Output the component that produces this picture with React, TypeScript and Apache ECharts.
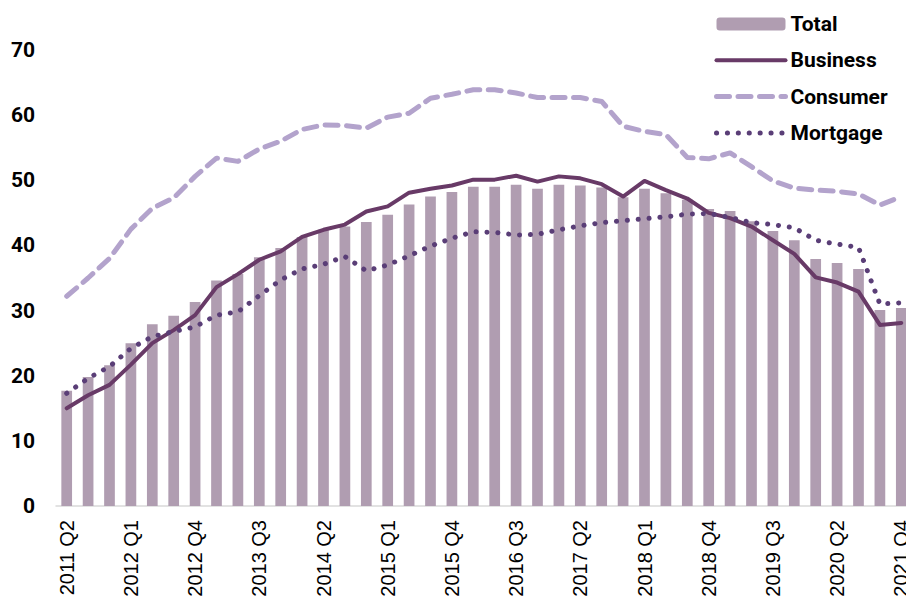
import React, { useEffect, useRef } from "react";
import * as echarts from "echarts";

const quarters: string[] = [
  "2011 Q2", "2011 Q3", "2011 Q4",
  "2012 Q1", "2012 Q2", "2012 Q3", "2012 Q4",
  "2013 Q1", "2013 Q2", "2013 Q3", "2013 Q4",
  "2014 Q1", "2014 Q2", "2014 Q3", "2014 Q4",
  "2015 Q1", "2015 Q2", "2015 Q3", "2015 Q4",
  "2016 Q1", "2016 Q2", "2016 Q3", "2016 Q4",
  "2017 Q1", "2017 Q2", "2017 Q3", "2017 Q4",
  "2018 Q1", "2018 Q2", "2018 Q3", "2018 Q4",
  "2019 Q1", "2019 Q2", "2019 Q3", "2019 Q4",
  "2020 Q1", "2020 Q2", "2020 Q4", "2021 Q2", "2021 Q4",
];

const total: number[] = [
  17.7, 19.8, 21.6, 25.0, 27.9, 29.2, 31.3, 34.6, 35.6, 38.2,
  39.6, 41.3, 42.4, 42.9, 43.6, 44.7, 46.3, 47.5, 48.2, 49.0,
  49.0, 49.3, 48.7, 49.3, 49.2, 48.9, 47.4, 48.7, 48.0, 47.0,
  45.6, 45.3, 43.7, 42.2, 40.8, 37.9, 37.3, 36.4, 30.1, 30.4,
];

const business: number[] = [
  15.0, 17.0, 18.6, 21.7, 25.0, 27.0, 29.3, 33.6, 35.6, 37.8,
  39.1, 41.3, 42.4, 43.2, 45.2, 46.0, 48.1, 48.7, 49.2, 50.1,
  50.1, 50.7, 49.8, 50.6, 50.3, 49.4, 47.5, 49.9, 48.5, 47.2,
  45.0, 44.2, 42.9, 40.8, 38.7, 35.1, 34.3, 32.9, 27.8, 28.1,
];

const consumer: number[] = [
  32.2, 35.0, 38.0, 42.5, 45.7, 47.3, 50.6, 53.4, 52.9, 54.8,
  56.0, 57.8, 58.5, 58.4, 58.0, 59.7, 60.3, 62.6, 63.2, 63.9,
  63.9, 63.4, 62.7, 62.7, 62.7, 62.1, 58.3, 57.5, 57.0, 53.5,
  53.3, 54.2, 52.1, 49.9, 48.8, 48.5, 48.3, 47.9, 46.2, 47.5,
];

const mortgage: number[] = [
  17.3, 19.6, 21.4, 24.2, 26.0, 26.8, 27.5, 29.3, 29.8, 32.3,
  34.7, 36.4, 37.1, 38.3, 36.1, 37.0, 38.4, 39.9, 41.1, 42.1,
  42.0, 41.6, 41.7, 42.4, 43.0, 43.5, 43.8, 44.1, 44.4, 44.8,
  44.9, 44.3, 43.5, 43.2, 42.7, 40.8, 40.2, 39.7, 31.0, 31.2,
];

const yTicks = { min: 0, max: 70, interval: 10 };

const BOLD_FONT = "Roboto, 'Liberation Sans', sans-serif";
const AXIS_FONT = "'Liberation Sans', Arial, sans-serif";

const C_TOTAL = "#b09db1";
const C_BUSINESS = "#683a67";
const C_CONSUMER = "#b3a3cc";
const C_MORTGAGE = "#5a3e77";

const DASH_CONSUMER = [13, 8.5];
const DASH_MORTGAGE = [0.1, 10.8];

export default function App() {
  const ref = useRef<HTMLDivElement>(null);

  useEffect(() => {
    if (!ref.current) return;
    const chart = echarts.init(ref.current, undefined, { renderer: "svg" });
    chart.setOption({
      animation: false,
      backgroundColor: "#ffffff",
      grid: {
        left: 56,
        right: 2,
        top: 50,
        bottom: 93,
        containLabel: false,
        outerBoundsMode: "none",
      },
      legend: {
        orient: "vertical",
        left: 709,
        top: 8,
        itemWidth: 69,
        itemHeight: 13,
        itemGap: 14.3,
        textStyle: {
          fontFamily: BOLD_FONT,
          fontWeight: "bold",
          fontSize: 21,
          color: "#000000",
          lineHeight: 22,
        },
        data: [
          { name: "Total", itemStyle: { color: C_TOTAL } },
          {
            name: "Business",
            itemStyle: { opacity: 0 },
            lineStyle: { color: C_BUSINESS, width: 4, cap: "round" },
          },
          {
            name: "Consumer",
            itemStyle: { opacity: 0 },
            lineStyle: { color: C_CONSUMER, width: 5, type: DASH_CONSUMER, cap: "round" },
          },
          {
            name: "Mortgage",
            itemStyle: { opacity: 0 },
            lineStyle: { color: C_MORTGAGE, width: 5, type: DASH_MORTGAGE, cap: "round" },
          },
        ],
      },
      xAxis: {
        type: "category",
        data: quarters,
        boundaryGap: true,
        axisLine: { show: true, lineStyle: { color: "#d9d9d9", width: 1.5 } },
        axisTick: { show: false },
        axisLabel: {
          interval: 2,
          rotate: 90,
          margin: 14,
          fontFamily: AXIS_FONT,
          fontSize: 20,
          color: "#000000",
        },
        splitLine: { show: false },
      },
      yAxis: {
        type: "value",
        min: yTicks.min,
        max: yTicks.max,
        interval: yTicks.interval,
        axisLine: { show: false },
        axisTick: { show: false },
        splitLine: { show: false },
        axisLabel: {
          margin: 21,
          fontFamily: BOLD_FONT,
          fontWeight: "bold",
          fontSize: 21,
          color: "#000000",
        },
      },
      series: [
        {
          name: "Total",
          type: "bar",
          data: total,
          barWidth: "50%",
          itemStyle: { color: C_TOTAL },
          z: 1,
        },
        {
          name: "Business",
          type: "line",
          data: business,
          symbol: "none",
          lineStyle: { color: C_BUSINESS, width: 4, cap: "round", join: "round" },
          itemStyle: { color: C_BUSINESS },
          z: 4,
        },
        {
          name: "Consumer",
          type: "line",
          data: consumer,
          symbol: "none",
          lineStyle: {
            color: C_CONSUMER,
            width: 5,
            type: DASH_CONSUMER,
            cap: "round",
            join: "round",
          },
          itemStyle: { color: C_CONSUMER },
          z: 3,
        },
        {
          name: "Mortgage",
          type: "line",
          data: mortgage,
          symbol: "none",
          lineStyle: {
            color: C_MORTGAGE,
            width: 5,
            type: DASH_MORTGAGE,
            cap: "round",
            join: "round",
          },
          itemStyle: { color: C_MORTGAGE },
          z: 5,
        },
      ],
    });
    return () => chart.dispose();
  }, []);

  return <div ref={ref} style={{ width: 914, height: 599, marginLeft: -8, marginTop: -8 }} />;
}
